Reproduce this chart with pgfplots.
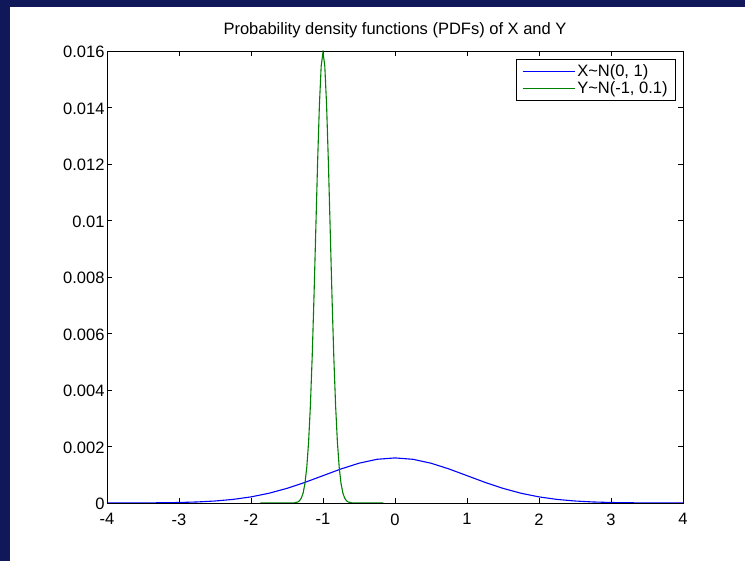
\documentclass[border=0pt]{standalone}
\usepackage{fontspec}
\setmainfont{Liberation Sans}
\usepackage{pgfplots}
\pgfplotsset{compat=1.18}
\definecolor{navyband}{RGB}{16,24,90}
\definecolor{mblue}{RGB}{0,0,255}
\definecolor{mgreen}{RGB}{0,128,0}
\begin{document}
\begin{tikzpicture}[x=1pt,y=1pt]
\fill[navyband] (0,0) rectangle (745,561);
\fill[white] (10,0) rectangle (745,554);
\begin{axis}[
  at={(107pt,58pt)}, anchor=south west,
  scale only axis, width=576pt, height=452pt,
  xmin=-4, xmax=4, ymin=0, ymax=0.016,
  xtick={-4,-3,-2,-1,0,1,2,3,4},
  ytick={0,0.002,0.004,0.006,0.008,0.01,0.012,0.014,0.016},
  scaled y ticks=false,
  yticklabel style={/pgf/number format/fixed,/pgf/number format/precision=3, xshift=1pt, yshift=-1pt},
  xticklabel style={yshift=-7pt},
  /pgf/number format/assume math mode=true,
  tick align=inside, major tick length=5pt,
  xtick pos=both, ytick pos=both,
  tick style={black, line width=0.8pt},
  axis line style={black, line width=0.8pt},
  font=\fontsize{16.5}{19}\selectfont,
  ticklabel style={font=\fontsize{16.5}{19}\selectfont},
  title={Probability density functions (PDFs) of X and Y},
  title style={font=\fontsize{16.5}{19}\selectfont, yshift=4pt},
  legend cell align=left,
  legend style={at={(1,1)}, anchor=north east, xshift=-7pt, yshift=-8pt,
    line width=0.8pt, font=\fontsize{16.5}{19}\selectfont,
    inner xsep=6pt, inner ysep=3pt, nodes={inner sep=2pt}},
  legend image code/.code={\draw[#1] (0pt,0pt)--(52pt,0pt);},
]
\addplot[draw=mblue, line width=1.1pt] coordinates {
(-4,0.0000005) (-3.75,0.0000014) (-3.5,0.0000035) (-3.25,0.0000081) (-3,0.0000177)
(-2.75,0.0000364) (-2.5,0.0000701) (-2.25,0.0001270) (-2,0.0002160) (-1.75,0.0003451)
(-1.5,0.0005181) (-1.25,0.0007306) (-1,0.0009679) (-0.75,0.0012046) (-0.5,0.0014083)
(-0.25,0.0015467) (0,0.0015958) (0.25,0.0015467) (0.5,0.0014083) (0.75,0.0012046)
(1,0.0009679) (1.25,0.0007306) (1.5,0.0005181) (1.75,0.0003451) (2,0.0002160)
(2.25,0.0001270) (2.5,0.0000701) (2.75,0.0000364) (3,0.0000177) (3.25,0.0000081)
(3.5,0.0000035) (3.75,0.0000014) (4,0.0000005)
};
\addlegendentry{X\textasciitilde N(0, 1)}
\addplot[draw=mgreen, line width=1.1pt] coordinates {
(-1.87,0) (-1.5,0) (-1.45,0.0000001) (-1.4,0.0000053) (-1.35,0.0000349) (-1.325,0.0000812)
(-1.3,0.000177) (-1.275,0.000364) (-1.25,0.000701) (-1.225,0.001270)
(-1.2,0.002160) (-1.175,0.003451) (-1.15,0.005181) (-1.125,0.007306)
(-1.1,0.009679) (-1.075,0.012046) (-1.05,0.014083) (-1.025,0.015467)
(-1,0.015958) (-0.975,0.015467) (-0.95,0.014083) (-0.925,0.012046)
(-0.9,0.009679) (-0.875,0.007306) (-0.85,0.005181) (-0.825,0.003451)
(-0.8,0.002160) (-0.775,0.001270) (-0.75,0.000701) (-0.725,0.000364)
(-0.7,0.000177) (-0.675,0.0000812) (-0.65,0.0000349) (-0.6,0.0000053)
(-0.55,0.0000001) (-0.5,0) (-0.16,0)
};
\addlegendentry{Y\textasciitilde N(-1, 0.1)}
\end{axis}
\end{tikzpicture}
\end{document}
